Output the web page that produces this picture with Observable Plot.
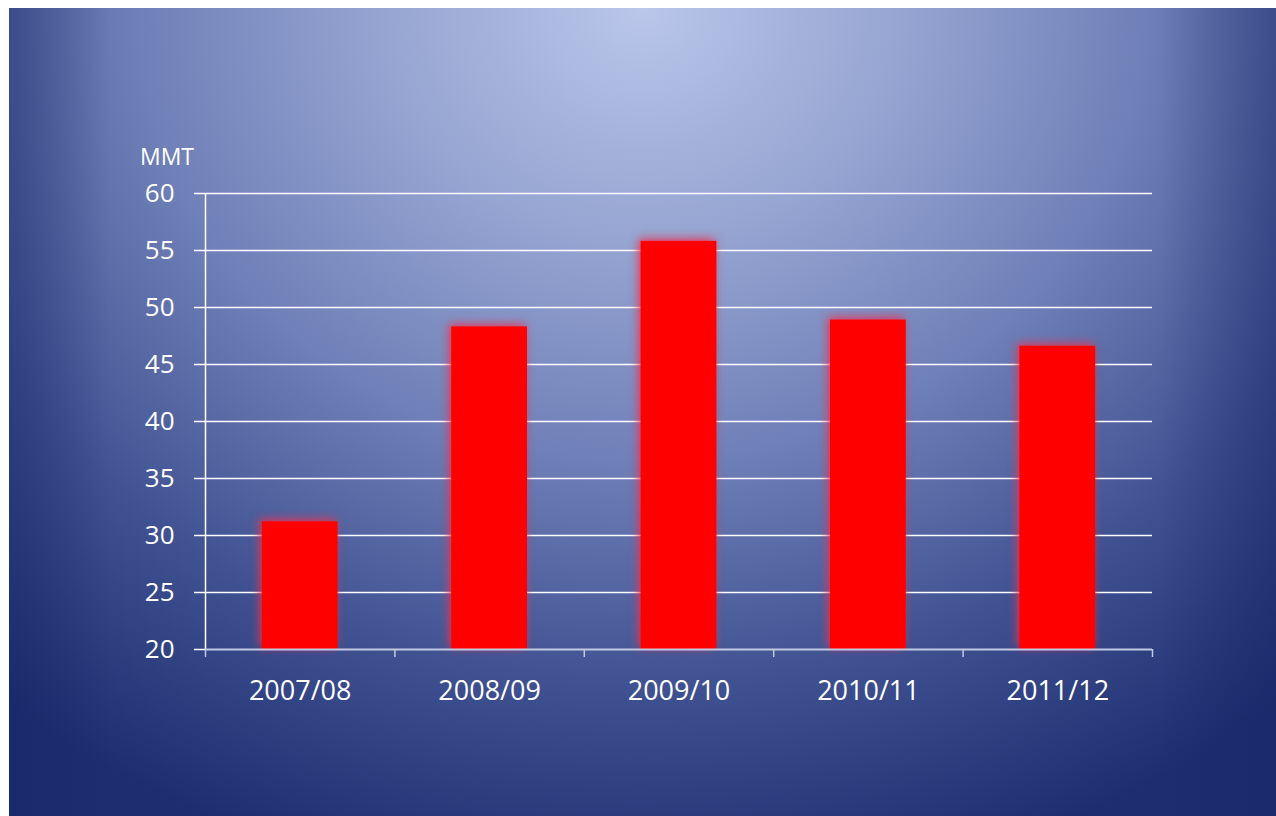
<!DOCTYPE html>
<html><head><meta charset="utf-8">
<script src="https://cdn.jsdelivr.net/npm/d3@7"></script>
<script src="https://cdn.jsdelivr.net/npm/@observablehq/plot@0.6"></script>
<style>
html,body{margin:0;padding:0;background:#fff;}
#page{position:relative;width:1276px;height:816px;overflow:hidden;background:#fff;}
#bg{position:absolute;left:9px;top:8px;width:1267px;height:808px;
 background:
  linear-gradient(to right, rgba(20,35,100,0.4) 0px, rgba(20,35,100,0) 100px, rgba(20,35,100,0) 1150px, rgba(20,35,100,0.4) 1267px),
  radial-gradient(ellipse 1000px 900px at 50% 0%, #bac6ea 0%, #97a6d2 25%, #7080b8 50%, #405292 75%, #1d2e70 100%);}
#chart{position:absolute;left:0;top:0;}
#unit{position:absolute;left:140px;top:140px;color:#fff;font:23px "Open Sans",sans-serif;}
</style></head>
<body><div id="page"><div id="bg"></div><div id="chart"></div><div id="unit">MMT</div></div>
<script>
const years = ["2007/08", "2008/09", "2009/10", "2010/11", "2011/12"];
const values = [31.2, 48.3, 55.8, 48.9, 46.6];
const yTicks = [20, 25, 30, 35, 40, 45, 50, 55, 60];

const rows = years.map((year, i) => ({year, value: values[i], slot: i}));
const slots = d3.range(years.length + 1);
const centers = d3.range(years.length).map(i => i + 0.5);

const chart = Plot.plot({
  width: 1276, height: 816,
  marginLeft: 205, marginRight: 124, marginTop: 193, marginBottom: 167,
  x: {type: "linear", domain: [0, years.length], axis: null},
  y: {domain: [20, 60], axis: null},
  style: {background: "transparent", color: "#fff", fontFamily: "'Open Sans', sans-serif", fontSize: "26px", overflow: "visible"},
  marks: [
    Plot.ruleY(yTicks.filter(t => t > 20), {stroke: "#fff", strokeWidth: 1.5}),
    Plot.axisY(yTicks, {tickSize: 11, tickPadding: 20, strokeWidth: 1.5, fontSize: 26, label: null}),
    Plot.ruleX([0], {y1: 20, y2: 60, stroke: "#fff", strokeWidth: 1.5}),
    Plot.rectY(rows, {x1: d => d.slot + 0.3, x2: d => d.slot + 0.7, y1: 20, y2: "value", fill: "#ff0000"}),
    Plot.ruleY([20], {stroke: "#c3c9e0", strokeWidth: 2}),
    Plot.axisX(slots, {tickSize: 8, tickFormat: () => "", stroke: "#c3c9e0", strokeWidth: 1.5, label: null}),
    Plot.axisX(centers, {tickSize: 0, tickPadding: 31, tickFormat: d => years[Math.floor(d)], fontSize: 27, fill: "#fff", label: null})
  ]
});
const rectGroup = chart.querySelector('g[aria-label="rect"]');
if (rectGroup) rectGroup.style.filter = "drop-shadow(-2px -2px 5px rgba(235,50,80,0.95))";
document.getElementById("chart").appendChild(chart);
</script>
</body></html>
